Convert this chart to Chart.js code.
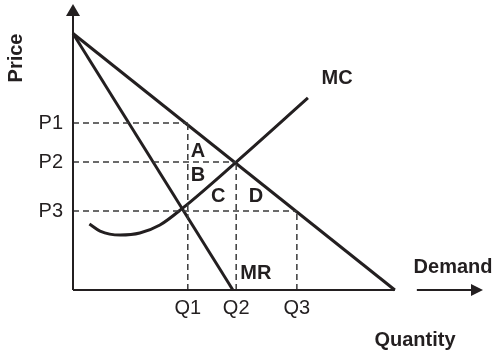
<!DOCTYPE html>
<html>
<head>
<meta charset="utf-8">
<script src="https://cdn.jsdelivr.net/npm/chart.js@4/dist/chart.umd.min.js"></script>
<style>
  html, body { margin: 0; padding: 0; background: #fff; }
  canvas { display: block; }
</style>
</head>
<body>
<canvas id="chart" width="500" height="355"></canvas>
<script>
// tick labels and positions on each axis
const qLabels = ['Q1', 'Q2', 'Q3'];
const qValues = [28, 39.8, 54.6];
const pLabels = ['P1', 'P2', 'P3'];
const pValues = [58.6, 44.9, 27.7];

// curves (quantity, price)
const demandQ = [0, 78.5];
const demandP = [90, 0];
const mrQ = [0, 39];
const mrP = [90, 0];
const mcQ = [4, 6.6, 11.5, 16.3, 21.2, 26.8, 39.8, 57.3];
const mcP = [23.2, 20.7, 19.3, 20, 22.8, 28.8, 44.9, 67.4];

// in-chart labels
const markLabels = ['A', 'B', 'C', 'D', 'MR', 'MC', 'Demand'];
const markQ = [30.5, 30.5, 35.4, 44.6, 44.6, 64.4, 92.7];
const markP = [49.1, 40.7, 33.3, 33, 6, 74.7, 8.4];

const ink = '#231f20';
const font = '"Liberation Sans", Arial, sans-serif';

function toPoints(xs, ys) {
    return xs.map((x, i) => ({ x: x, y: ys[i] }));
}

function solidLine(xs, ys) {
    return {
        data: toPoints(xs, ys),
        showLine: true,
        borderColor: ink,
        borderWidth: 3,
        pointRadius: 0,
        fill: false,
        clip: false
    };
}

// dashed guides: from price axis to (Q,P) and from quantity axis up to (Q,P)
const guides = [];
qValues.forEach((q, i) => {
    const p = pValues[i];
    [[[0, q], [p, p]], [[q, q], [0, p]]].forEach(([xs, ys]) => {
        guides.push({
            data: toPoints(xs, ys),
            showLine: true,
            borderColor: '#3a3a3a',
            borderWidth: 1.5,
            borderDash: [6, 4],
            pointRadius: 0,
            fill: false,
            clip: false
        });
    });
});

const mcLine = solidLine(mcQ, mcP);
mcLine.cubicInterpolationMode = 'monotone';

// no extra room for tick labels at the scale ends
function noPad(scale) {
    scale.paddingTop = 0;
    scale.paddingBottom = 0;
    scale.paddingLeft = 0;
    scale.paddingRight = 0;
}

const decorations = {
    id: 'decorations',
    afterDatasetsDraw(chart) {
        const ctx = chart.ctx;
        const area = chart.chartArea;
        const xs = chart.scales.x;
        const ys = chart.scales.y;
        ctx.save();
        ctx.strokeStyle = ink;
        ctx.fillStyle = ink;
        ctx.lineWidth = 2;

        // price axis with arrow
        ctx.beginPath();
        ctx.moveTo(area.left, area.bottom);
        ctx.lineTo(area.left, area.top + 10);
        ctx.stroke();
        ctx.beginPath();
        ctx.moveTo(area.left, area.top - 1);
        ctx.lineTo(area.left - 7, area.top + 11);
        ctx.lineTo(area.left + 7, area.top + 11);
        ctx.closePath();
        ctx.fill();

        // quantity axis, broken before the arrow
        const xEnd = xs.getPixelForValue(demandQ[1]);
        ctx.beginPath();
        ctx.moveTo(area.left, area.bottom);
        ctx.lineTo(xEnd, area.bottom);
        ctx.stroke();
        ctx.beginPath();
        ctx.moveTo(xEnd + 22, area.bottom);
        ctx.lineTo(area.right - 10, area.bottom);
        ctx.stroke();
        ctx.beginPath();
        ctx.moveTo(area.right, area.bottom);
        ctx.lineTo(area.right - 12, area.bottom - 6);
        ctx.lineTo(area.right - 12, area.bottom + 6);
        ctx.closePath();
        ctx.fill();

        // curve and area labels
        ctx.font = 'bold 20px ' + font;
        ctx.textAlign = 'center';
        ctx.textBaseline = 'middle';
        markLabels.forEach((t, i) => {
            ctx.fillText(t, xs.getPixelForValue(markQ[i]), ys.getPixelForValue(markP[i]) + 1);
        });

        // axis titles
        ctx.fillText('Quantity', area.left + 342, area.bottom + 50);
        ctx.translate(16, area.top + 53);
        ctx.rotate(-Math.PI / 2);
        ctx.fillText('Price', 0, 0);
        ctx.restore();
    }
};

new Chart(document.getElementById('chart'), {
    type: 'scatter',
    data: {
        datasets: [
            ...guides,
            solidLine(demandQ, demandP),
            solidLine(mrQ, mrP),
            mcLine
        ]
    },
    options: {
        responsive: false,
        animation: false,
        devicePixelRatio: 1,
        layout: { padding: { top: 5, right: 17, left: 0, bottom: 0 } },
        plugins: {
            legend: { display: false },
            tooltip: { enabled: false }
        },
        scales: {
            x: {
                type: 'linear',
                min: 0,
                max: 100,
                grid: { display: false, drawTicks: false },
                border: { display: false },
                afterBuildTicks: (scale) => { scale.ticks = qValues.map(v => ({ value: v })); },
                afterFit: (scale) => { scale.height = 65; noPad(scale); },
                ticks: {
                    autoSkip: false,
                    maxRotation: 0,
                    padding: 6,
                    color: ink,
                    font: { family: font, size: 20 },
                    callback: (value) => qLabels[qValues.indexOf(value)]
                }
            },
            y: {
                type: 'linear',
                min: 0,
                max: 100,
                grid: { display: false, drawTicks: false },
                border: { display: false },
                afterBuildTicks: (scale) => { scale.ticks = pValues.map(v => ({ value: v })); },
                afterFit: (scale) => { scale.width = 73; noPad(scale); },
                ticks: {
                    autoSkip: false,
                    padding: 10,
                    color: ink,
                    font: { family: font, size: 20 },
                    callback: (value) => pLabels[pValues.indexOf(value)]
                }
            }
        }
    },
    plugins: [decorations]
});
</script>
</body>
</html>
